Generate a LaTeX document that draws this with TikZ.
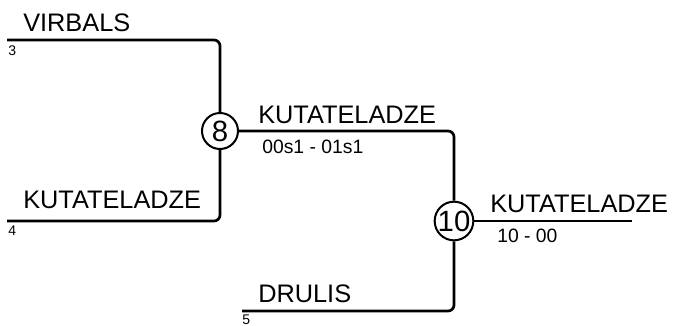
\documentclass[tikz,border=0pt]{standalone}
\usepackage{fontspec}
\setmainfont{Liberation Sans}

\tikzset{
	team/.style={font=\fontsize{19}{19}\selectfont, anchor=base west, inner sep=0pt},
	result/.style={font=\fontsize{14.5}{14.5}\selectfont, anchor=base west, inner sep=0pt},
	seed/.style={font=\fontsize{10.5}{10.5}\selectfont, anchor=base west, inner sep=0pt},
	game/.style={circle, draw, line width=1.5pt, fill=white, minimum size=27pt, inner sep=0pt, font=\fontsize{22}{22}\selectfont},
	bracket/.style={line width=2pt, rounded corners=4.5pt}
}

\begin{document}
\begin{tikzpicture}[x=0.75pt, y=-0.75pt]
	\useasboundingbox (0,0) rectangle (678,325);
	\coordinate (s3) at (7,40);
	\coordinate (s4) at (7,221);
	\coordinate (s5) at (242,311);
	\coordinate (win) at (632,221);
	\node[game] (g8) at (220,131) {8};
	\node[game] (g10) at (454,221) {10};

	\node[team] (virbals) at (23,31) {VIRBALS};
	\node[seed] (n3) at (8,55) {3};
	\node[team] (kut4) at (23,208) {KUTATELADZE};
	\node[seed] (n4) at (8,235) {4};
	\node[team] (kut8) at (258,123) {KUTATELADZE};
	\node[result] (r8) at (262,153) {00s1 - 01s1};
	\node[team] (drulis) at (258,302) {DRULIS};
	\node[seed] (n5) at (242,324) {5};
	\node[team] (kut10) at (490,212) {KUTATELADZE};
	\node[result] (r10) at (497,242) {10 - 00};

	\draw[bracket] (s3) -| (g8);
	\draw[bracket] (s4) -| (g8);
	\draw[bracket] (g8) -| (g10);
	\draw[bracket] (s5) -| (g10);
	\draw[bracket] (g10) -- (win);
\end{tikzpicture}
\end{document}
